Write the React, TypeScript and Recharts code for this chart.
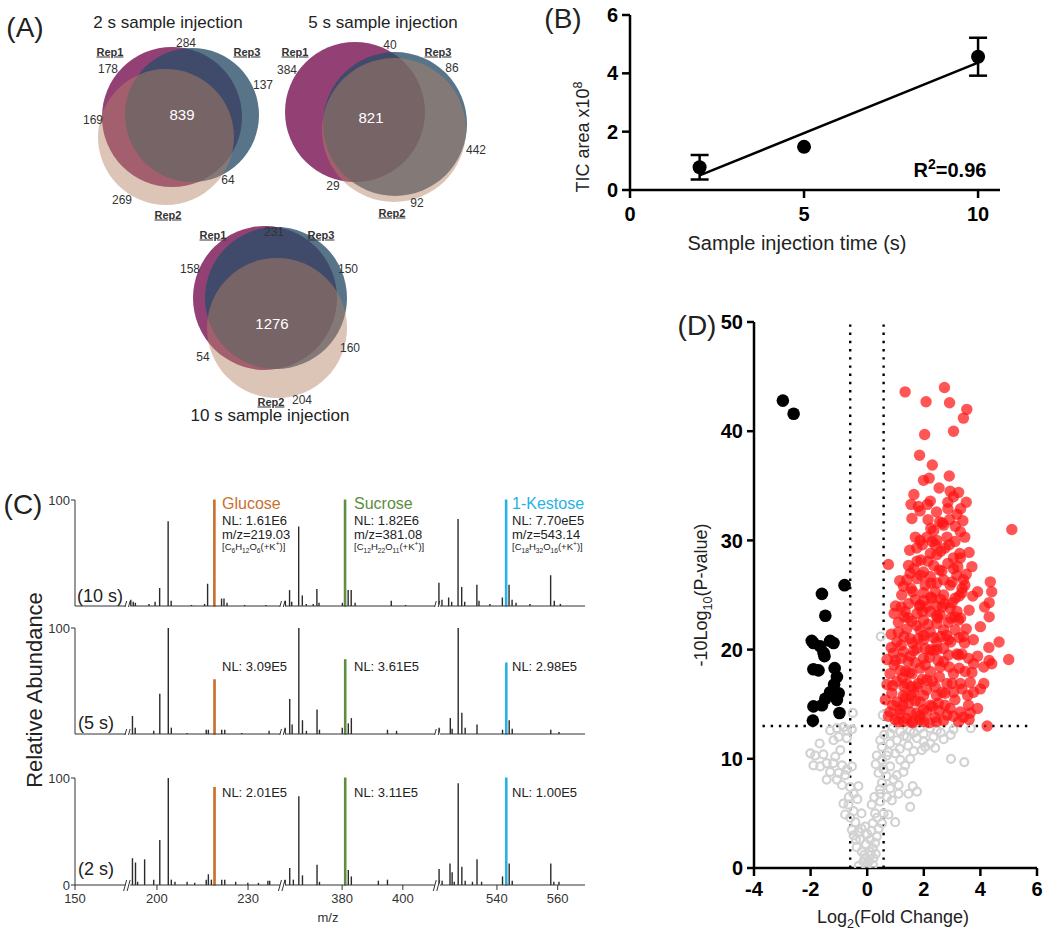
import React from 'react';
import {
  ScatterChart, Scatter, ComposedChart, Bar, Cell, XAxis, YAxis,
  ErrorBar, ReferenceLine, ReferenceDot,
} from 'recharts';

const FONT = '"Liberation Sans", Arial, sans-serif';

// ---------- (A) Venn diagrams ----------
const vennTitles = ['2 s sample injection', '5 s sample injection', '10 s sample injection'];
const vennSets = ['Rep1', 'Rep3', 'Rep2'];
// region order: Rep1 only, Rep1∩Rep3, Rep3 only, Rep1∩Rep2, all, Rep2∩Rep3, Rep2 only
const counts2s = [178, 284, 137, 169, 839, 64, 269];
const counts5s = [384, 40, 86, 29, 821, 442, 92];
const counts10s = [158, 231, 150, 54, 1276, 160, 204];

// circle layout (cx, cy, r) for Rep1, Rep3, Rep2
const circles2s = [[172, 117, 70], [192, 115, 67], [166, 137, 68]];
const circles5s = [[355, 112, 70], [395, 124, 72], [394, 130, 72]];
const circles10s = [[265, 298, 72], [276, 298, 71], [277, 328, 70]];

const countPos = [
  [[108, 69], [186, 43], [263, 85], [93, 120], [182, 114], [228, 180], [122, 200]],
  [[287, 70], [390, 45], [452, 68], [333, 186], [371, 117], [476, 150], [417, 203]],
  [[190, 269], [274, 232], [348, 269], [203, 357], [272, 323], [350, 348], [302, 400]],
];
const setPos = [
  [[110, 52], [247, 52], [168, 215]],
  [[295, 52], [438, 52], [392, 213]],
  [[213, 235], [321, 235], [271, 402]],
];
const titlePos = [[168, 22], [383, 22], [270, 415]];

const setColor: Record<string, string> = { Rep1: '#934175', Rep3: '#294d67', Rep2: '#b58264' };
const setAlpha: Record<string, number> = { Rep1: 1, Rep3: 0.78, Rep2: 0.47 };

// ---------- (B) TIC area ----------
const injTime = [2, 5, 10];
const ticArea = [0.78, 1.48, 4.57];
const ticErr = [0.42, 0, 0.65];
const fitStart = { x: 2, y: 0.5 };
const fitEnd = { x: 10, y: 4.37 };

// ---------- (C) mass spectra ----------
const spec10s = [
  [191.5, 6], [192.3, 4], [193, 3], [197.5, 2], [199.5, 4], [201, 17], [203.8, 80], [204.8, 5], [211.5, 1],
  [215.8, 2], [216.8, 21], [221.4, 7], [222.2, 7], [223.2, 3], [229, 1], [236, 1],
  [361.4, 5], [362.8, 15], [363.5, 4], [365.8, 75], [367, 10], [368.3, 2], [370.6, 2], [371.8, 16], [372.5, 3],
  [380.2, 3], [382.1, 15], [383.1, 15], [384.4, 3], [396.3, 5], [401, 1],
  [521, 22], [522, 6], [524.2, 8], [525.2, 4], [527.3, 82], [528.5, 18], [529.5, 4], [533.5, 20], [534.2, 5],
  [537.8, 2], [541.9, 8], [544.1, 20], [545.1, 6], [546.4, 3], [551, 2], [557.8, 29], [559, 5], [561, 2],
];
const spec5s = [
  [192, 17], [192.9, 6], [199, 3], [201, 38], [203.8, 100], [204.8, 6], [210, 1], [216.3, 4], [217, 4],
  [221.4, 4], [222.4, 4], [228, 1], [237, 3],
  [361.3, 6], [362.8, 33], [363.6, 9], [365.8, 100], [367, 13], [368.3, 3], [371.8, 23], [372.6, 4],
  [380.1, 6], [382.1, 10], [383.1, 15], [395, 4], [398, 3],
  [521, 6], [524.7, 15], [525.3, 5], [527.3, 100], [528.5, 20], [529.6, 6], [533.5, 9], [541.9, 4],
  [544.1, 13], [545.1, 5], [557.8, 4], [560.5, 2],
];
const spec2s = [
  [192, 25], [193, 21], [193.7, 3], [196, 24], [199, 5], [201, 42], [203.8, 100], [204.8, 5], [206, 3],
  [210, 3], [212.5, 2], [216.3, 5], [217, 10], [218, 5], [221.4, 5], [222.4, 5], [226, 3], [230, 2],
  [233.5, 2], [236.6, 4], [237.2, 4],
  [361.3, 5], [362.8, 16], [364, 5], [365.8, 83], [367, 9], [371.8, 19], [372.6, 3], [382.1, 14],
  [383.1, 8], [392, 4], [395, 5],
  [521, 15], [522, 4], [524.6, 20], [525.3, 12], [526, 3], [527.3, 95], [528.5, 17], [529.6, 4], [532, 3],
  [533.5, 24], [535, 3], [541.9, 8], [544.1, 20], [545.1, 4], [557.8, 20], [558.8, 3], [560.5, 3],
];
const targetMz = [219.03, 381.08, 543.14];
const targetNames = ['Glucose', 'Sucrose', '1-Kestose'];
const targetColors = ['#c8702f', '#5e8c3e', '#27b2e3'];
const targetRel10s = [100, 100, 100];
const targetRel5s = [51, 70, 67];
const targetRel2s = [91, 100, 100];
const nl10s = ['NL: 1.61E6', 'NL: 1.82E6', 'NL: 7.70eE5'];
const nl5s = ['NL: 3.09E5', 'NL: 3.61E5', 'NL: 2.98E5'];
const nl2s = ['NL: 2.01E5', 'NL: 3.11E5', 'NL: 1.00E5'];
const mzText = ['m/z=219.03', 'm/z=381.08', 'm/z=543.14'];
const mzTicks = [150, 200, 230, 380, 400, 540, 560];

// broken m/z axis: segment start m/z and start position
const segMz = [150, 191, 361, 521];
const segPos = [0, 18, 69, 120];
const breakPos = [17.5, 68.5, 119.5];
const POS_MAX = 168;

// ---------- (D) volcano ----------
const downReg = [
  [-2.98, 42.8], [-2.6, 41.6], [-0.8, 25.9], [-1.6, 25.1], [-1.48, 23.1], [-1.96, 20.8], [-1.31, 20.8],
  [-1.66, 20.3], [-1.51, 19.4], [-1.9, 20.6], [-1.54, 19.7], [-1.19, 20.6], [-1.9, 18.2], [-1.72, 18.1],
  [-1.15, 18.3], [-1.07, 17.5], [-1.17, 16.8], [-1.31, 16.1], [-1.01, 16.0], [-1.48, 15.5], [-1.07, 15.4],
  [-1.9, 14.8], [-1.6, 14.9], [-0.98, 14.2], [-1.92, 13.5],
];
const upReg = [
  [1.34, 43.6], [2.73, 44.0], [2.08, 42.7], [2.91, 42.6], [3.52, 42.0], [3.4, 41.2], [3.05, 40.0], [2.03, 39.7],
  [1.85, 37.8], [1.99, 35.5], [2.19, 35.7], [2.54, 34.8], [2.93, 34.5], [3.23, 34.4], [3.05, 34.0], [3.5, 33.5],
  [1.55, 33.3], [1.81, 33.1], [2.23, 33.6], [2.13, 33.3], [1.58, 32.0], [1.87, 32.7], [2.85, 32.9], [3.17, 32.4],
  [2.91, 31.9], [3.38, 31.8], [2.56, 31.7], [2.25, 31.1], [2.7, 31.4], [3.11, 31.3], [5.11, 31.0], [3.29, 30.8],
  [1.7, 30.3], [1.87, 30.0], [2.11, 30.3], [2.46, 30.0], [2.82, 30.3], [2.4, 29.6], [2.75, 29.3], [3.27, 28.8],
  [2.23, 28.8], [2.46, 28.7], [0.75, 27.8], [1.46, 27.7], [1.76, 28.1], [2.35, 27.7], [3.05, 28.4], [3.29, 28.4],
  [3.7, 27.6], [1.52, 27.0], [1.99, 27.1], [2.64, 27.2], [3.05, 27.4], [3.17, 26.8], [1.76, 26.5], [2.23, 26.7],
  [2.7, 26.4], [3.4, 26.4], [4.35, 26.2], [1.28, 25.8], [2.05, 25.9], [2.46, 26.1], [2.93, 25.9], [3.35, 25.6],
  [4.4, 25.3], [1.22, 25.0], [1.61, 25.3], [1.99, 25.2], [2.29, 24.7], [2.7, 25.0], [3.11, 24.7], [3.35, 25.2],
  [3.73, 24.9], [3.9, 25.3], [4.31, 24.3], [1.46, 24.2], [1.87, 24.1], [2.46, 24.0], [2.93, 23.8], [1.34, 23.5],
  [1.76, 23.3], [2.23, 23.5], [2.58, 23.2], [3.17, 23.5], [4.31, 23.0], [1.58, 22.6], [1.99, 22.7], [2.46, 22.4],
  [2.87, 22.5], [3.23, 22.7], [1.4, 21.9], [1.87, 21.8], [2.23, 21.6], [2.7, 21.8], [3.11, 21.8], [3.4, 21.2],
  [1.52, 21.0], [1.99, 20.9], [2.46, 20.7], [2.87, 20.9], [3.44, 20.6], [4.66, 20.7], [1.76, 20.1], [2.23, 20.0],
  [2.7, 20.1], [1.28, 19.8], [3.17, 19.6], [3.58, 19.2], [5.0, 19.1], [4.31, 19.0], [1.0, 19.0], [1.99, 19.2],
  [2.51, 19.0], [0.93, 19.7], [1.52, 19.4], [2.46, 20.0], [2.87, 19.5], [3.23, 19.5], [3.76, 18.7], [4.12, 18.4],
  [4.4, 18.7], [0.81, 17.8], [1.17, 18.1], [1.58, 17.8], [1.87, 18.3], [2.23, 18.0], [2.58, 18.4], [3.05, 17.8],
  [3.46, 18.0], [1.05, 17.1], [1.4, 16.9], [1.76, 16.6], [2.11, 17.2], [2.4, 16.6], [2.82, 16.9], [3.29, 16.9],
  [3.64, 17.0], [4.12, 16.9], [0.87, 16.0], [1.28, 15.8], [1.64, 16.1], [1.99, 15.8], [2.75, 16.0], [3.05, 16.1],
  [3.76, 16.1], [0.64, 15.4], [1.05, 15.2], [1.46, 15.1], [1.87, 15.2], [2.23, 14.9], [2.51, 15.1], [3.58, 14.9],
  [0.81, 14.3], [1.17, 14.5], [1.52, 14.3], [1.99, 14.5], [2.93, 14.6], [3.29, 14.3], [3.64, 14.2], [0.99, 13.6],
  [1.4, 13.7], [1.87, 13.6], [2.4, 13.8], [2.82, 14.0], [3.23, 13.4], [4.24, 13.0], [1.28, 13.4], [1.58, 13.4],
  [1.1, 22.5], [1.3, 21.2], [1.7, 24.6], [2.1, 23.9], [1.9, 26.8], [2.4, 25.3], [1.2, 20.4], [1.6, 20.6],
  [2.0, 21.3], [2.6, 21.2], [1.45, 18.9], [1.7, 18.8], [2.2, 19.3], [0.9, 16.7], [1.35, 15.6], [1.75, 14.2],
  [2.1, 16.3], [2.55, 17.5], [1.15, 14.1], [1.6, 13.3], [2.0, 13.4], [2.3, 14.8], [0.75, 13.9], [0.7, 16.8],
  [0.95, 18.6], [1.25, 17.4], [1.55, 16.6], [1.95, 17.3], [2.35, 19.9], [2.7, 18.9], [2.95, 20.7], [3.3, 22.9],
  [3.0, 26.2], [2.55, 27.3], [2.15, 28.1], [1.95, 29.6], [2.65, 31.6], [2.45, 32.6], [3.1, 29.9], [2.85, 27.9],
  [1.55, 25.6], [1.85, 24.0], [2.25, 26.1], [2.0, 24.5], [1.3, 23.0], [2.6, 24.6], [3.45, 25.9], [3.6, 23.6],
  [3.25, 18.3], [3.55, 15.8], [3.9, 14.6], [2.75, 14.9], [3.0, 16.9], [3.4, 13.8], [2.45, 13.4], [1.85, 13.9],
  [1.0, 24.0], [1.15, 26.3], [1.4, 26.4], [1.65, 27.4], [1.9, 28.2], [2.3, 29.9], [2.6, 29.0], [2.9, 29.6],
  [3.2, 27.6], [3.5, 26.9], [3.6, 28.9], [1.05, 20.7], [1.2, 19.2], [1.35, 18.0], [1.5, 17.9], [1.65, 19.9],
  [1.8, 21.0], [2.05, 20.1], [2.15, 22.3], [2.35, 21.1], [2.5, 22.9], [2.65, 23.9], [2.8, 21.3], [2.95, 22.9],
  [3.1, 23.0], [3.25, 21.1], [3.35, 19.6], [3.5, 21.9], [3.75, 20.9], [3.9, 19.4], [4.0, 22.1], [4.15, 23.9],
  [4.3, 20.2], [0.85, 21.4], [0.95, 23.3], [1.2, 23.9], [1.45, 22.9], [1.75, 22.2], [1.95, 23.5], [2.25, 24.8],
  [2.45, 23.1], [2.75, 24.2], [3.0, 24.3], [3.25, 24.9], [0.7, 19.1], [0.85, 20.2], [1.1, 21.6], [1.3, 16.6],
  [1.55, 15.8], [1.8, 16.9], [2.05, 18.6], [2.3, 17.1], [2.45, 15.8], [2.65, 16.1], [2.9, 18.4], [3.1, 15.4],
  [3.35, 16.4], [3.7, 17.9], [4.0, 16.4], [0.9, 14.9], [1.25, 14.9], [1.7, 15.3], [2.1, 14.3], [2.55, 14.4],
  [3.05, 13.9], [3.6, 13.6], [1.1, 13.4], [2.2, 13.3], [2.7, 13.5], [1.5, 29.1], [1.75, 29.3], [2.15, 31.9],
  [2.35, 30.9], [2.85, 33.5], [3.3, 32.9], [3.45, 30.3], [1.65, 34.2], [2.3, 36.9], [2.9, 35.9],
];
const notSig = [
  [-0.51, 14.2], [0.48, 21.2], [0.55, 14.0], [-1.31, 12.6], [-1.07, 12.8], [-0.84, 12.9], [-0.72, 12.6],
  [-0.54, 12.7], [-1.01, 12.0], [-1.19, 11.7], [-0.72, 11.9], [-1.68, 11.4], [-0.95, 10.8], [-2.01, 10.5],
  [-1.84, 10.3], [-1.13, 10.2], [-1.43, 9.6], [-1.9, 9.4], [-1.66, 9.3], [-0.89, 9.4], [-0.54, 9.3], [-0.72, 9.0],
  [-1.31, 8.8], [-1.01, 8.7], [-0.78, 8.5], [-1.43, 8.1], [-1.07, 8.1], [-0.89, 7.6], [-0.6, 7.4], [-0.31, 7.5],
  [-0.48, 6.8], [-0.84, 5.9], [-0.66, 5.8], [-0.48, 5.2], [-0.78, 4.9], [-0.42, 4.2], [-0.54, 3.5], [-0.31, 3.3],
  [-0.48, 3.0], [-0.25, 2.6], [-0.37, 1.9], [-0.19, 1.5], [-0.07, 0.9], [-0.01, 0.3], [-0.13, 0.6], [0.05, 0.6],
  [0.11, 1.2], [0.2, 1.8], [0.28, 2.3], [0.11, 2.6], [0.34, 2.9], [-0.07, 3.8], [0.2, 4.1], [0.52, 4.1],
  [0.28, 5.0], [0.16, 5.8], [0.46, 6.1], [0.58, 5.0], [0.75, 4.9], [0.99, 4.2], [0.46, 6.8], [0.52, 7.8],
  [0.81, 7.3], [0.69, 8.4], [0.93, 8.1], [1.11, 7.6], [0.87, 6.2], [1.11, 6.8], [1.46, 6.8], [1.76, 7.0],
  [1.52, 5.6], [0.4, 8.7], [0.58, 9.0], [0.81, 9.3], [0.52, 9.9], [0.34, 10.3], [0.69, 10.3], [0.99, 10.5],
  [1.17, 9.9], [1.34, 9.4], [1.52, 10.0], [1.28, 8.8], [1.05, 8.5], [1.64, 10.7], [1.93, 10.8], [1.99, 11.6],
  [2.23, 11.4], [2.4, 11.0], [2.7, 11.8], [2.34, 12.0], [1.99, 12.3], [1.76, 11.9], [1.4, 12.0], [1.05, 11.7],
  [0.81, 11.4], [0.46, 11.7], [0.52, 11.1], [0.81, 12.3], [1.17, 12.5], [1.52, 12.6], [1.87, 12.8], [2.23, 12.8],
  [2.46, 12.6], [3.05, 12.7], [3.66, 12.8], [2.96, 10.0], [3.43, 9.7], [1.61, 7.5], [0.1, 1.5], [-0.05, 2.2],
  [0.0, 3.1], [-0.2, 3.6], [0.15, 3.4], [0.35, 4.6], [-0.1, 1.2], [0.22, 0.9],
  [0.6, 12.2], [0.9, 12.8], [1.3, 12.1], [1.65, 12.4], [2.05, 11.1], [2.6, 12.4], [2.95, 12.2], [1.45, 11.2],
  [1.15, 10.9], [0.75, 10.6], [0.3, 9.5], [0.45, 7.2], [0.7, 6.5], [0.25, 6.5], [-0.2, 5.0], [-0.6, 4.6],
  [-0.35, 6.3], [-0.65, 6.5], [-1.2, 9.6], [-1.55, 10.4], [-0.3, 0.2], [0.3, 1.3], [0.4, 3.6], [-0.4, 2.6],
  [0.2, 0.3],
];

// ---------- helpers ----------
const mzToPos = (mz: number) => {
  let k = 0;
  for (let s = 0; s < segMz.length; s++) if (mz >= segMz[s]) k = s;
  return segPos[k] + (mz - segMz[k]);
};
const tickPos = mzTicks.map(mzToPos);
const fmtMz = (v: number) => {
  const k = tickPos.findIndex((t) => Math.abs(t - v) < 1e-6);
  return k >= 0 ? String(mzTicks[k]) : '';
};

const Txt = ({ x, y, size = 12, color = '#222', weight = 400, anchor = 'middle', rotate = 0, underline = false, children }: any) => {
  const tx = anchor === 'middle' ? '-50%' : anchor === 'end' ? '-100%' : '0';
  return (
    <div
      style={{
        position: 'absolute', left: x, top: y,
        transform: `translate(${tx}, -50%)${rotate ? ` rotate(${rotate}deg)` : ''}`,
        fontSize: size, color, fontWeight: weight, fontFamily: FONT, lineHeight: 1,
        whiteSpace: 'nowrap', textDecoration: underline ? 'underline' : 'none',
      }}
    >
      {children}
    </div>
  );
};
const sub = { fontSize: '0.7em', verticalAlign: 'sub', lineHeight: 0 } as const;
const sup = { fontSize: '0.7em', verticalAlign: 'super', lineHeight: 0 } as const;

const BreakMark = (p: any) => (
  <g>
    <rect x={p.cx - 3} y={p.cy - 1.5} width={5} height={3} fill="#fff" />
    <line x1={p.cx - 4.5} y1={p.cy + 6} x2={p.cx - 1.5} y2={p.cy - 5} stroke="#333" strokeWidth={1} />
    <line x1={p.cx - 1} y1={p.cy + 6} x2={p.cx + 2} y2={p.cy - 5} stroke="#333" strokeWidth={1} />
  </g>
);

const Spectrum = ({ peaks, rel, top, bottomAxis }: any) => {
  const data = [
    ...peaks.map(([mz, i]: number[]) => ({ pos: mzToPos(mz), i, color: '#2a2a2a', hl: false })),
    ...targetMz.map((mz, k) => ({ pos: mzToPos(mz), i: rel[k], color: targetColors[k], hl: true })),
  ].sort((a, b) => a.pos - b.pos);
  const height = bottomAxis ? 157 : 117;
  return (
    <div style={{ position: 'absolute', left: 0, top, width: 600, height }}>
      <ComposedChart width={600} height={height} data={data} margin={{ top: 10, right: 15, left: 35, bottom: 0 }}>
        <XAxis
          type="number" dataKey="pos" domain={[0, POS_MAX]} allowDataOverflow
          ticks={bottomAxis ? tickPos : []} interval={0} tickFormatter={fmtMz}
          tick={bottomAxis ? { fontSize: 13, fill: '#333', fontFamily: FONT } : false}
          tickLine={bottomAxis ? { stroke: '#333' } : false}
          tickSize={5} tickMargin={4} height={bottomAxis ? 40 : 1}
          axisLine={{ stroke: '#333' }}
        />
        <YAxis
          type="number" domain={[0, 100]} ticks={[0, 100]} width={40} tickSize={4} tickMargin={1}
          tick={{ fontSize: 13, fill: '#333', fontFamily: FONT }}
          axisLine={{ stroke: '#333' }} tickLine={{ stroke: '#333' }}
        />
        <Bar dataKey="i" barSize={1.4} isAnimationActive={false}>
          {data.map((d, k) => (
            <Cell key={k} fill={d.color} stroke={d.hl ? d.color : 'none'} strokeWidth={d.hl ? 1.2 : 0} />
          ))}
        </Bar>
        {breakPos.map((b) => (
          <ReferenceDot key={b} x={b} y={0} r={0} ifOverflow="visible" shape={BreakMark} />
        ))}
      </ComposedChart>
    </div>
  );
};

const bold = { fontSize: 20, fontWeight: 700, fill: '#000', fontFamily: FONT };
const axisStroke = { stroke: '#000', strokeWidth: 2.5 };

export default function App() {
  const vennCircles = [circles2s, circles5s, circles10s].map((cs) =>
    cs.map(([x, y, r], k) => ({ x, y, r, set: vennSets[k] })));
  const vennCounts = [counts2s, counts5s, counts10s];
  const bData = injTime.map((t, k) => ({ t, tic: ticArea[k], err: ticErr[k] }));
  const toXY = (arr: number[][]) => arr.map(([x, y]) => ({ x, y }));

  return (
    <div style={{ position: 'absolute', left: 0, top: 0, width: 1050, height: 931, background: '#fff', fontFamily: FONT, overflow: 'hidden' }}>
      {/* (A) */}
      <div style={{ position: 'absolute', left: 0, top: 0 }}>
        <ScatterChart width={520} height={430} margin={{ top: 0, right: 0, bottom: 0, left: 0 }}>
          <XAxis type="number" dataKey="x" domain={[0, 520]} hide />
          <YAxis type="number" dataKey="y" domain={[0, 430]} reversed hide />
          {vennCircles.map((cs, v) => (
            <Scatter
              key={v} data={cs} isAnimationActive={false}
              shape={(p: any) => (
                <circle cx={p.cx} cy={p.cy} r={p.payload.r} fill={setColor[p.payload.set]} fillOpacity={setAlpha[p.payload.set]} />
              )}
            />
          ))}
        </ScatterChart>
      </div>
      <Txt x={25} y={28} size={28}>(A)</Txt>
      {vennTitles.map((t, v) => (
        <Txt key={t} x={titlePos[v][0]} y={titlePos[v][1]} size={17}>{t}</Txt>
      ))}
      {vennCounts.map((cs, v) => cs.map((c, k) => (
        <Txt key={`${v}-${k}`} x={countPos[v][k][0]} y={countPos[v][k][1]} size={k === 4 ? 15 : 12} color={k === 4 ? '#fff' : '#333'}>{c}</Txt>
      )))}
      {setPos.map((ps, v) => ps.map((p, k) => (
        <Txt key={`s${v}-${k}`} x={p[0]} y={p[1]} size={11} weight={700} underline color="#333">{vennSets[k]}</Txt>
      )))}

      {/* (B) */}
      <div style={{ position: 'absolute', left: 520, top: 0 }}>
        <ScatterChart width={490} height={260} margin={{ top: 15, right: 10, bottom: 20, left: 50 }}>
          <XAxis type="number" dataKey="t" domain={[0, 10.63]} ticks={[0, 5, 10]} allowDataOverflow
            height={50} tickSize={8} tickMargin={9} tick={bold} axisLine={axisStroke} tickLine={axisStroke} />
          <YAxis type="number" dataKey="tic" domain={[0, 6]} ticks={[0, 2, 4, 6]} allowDataOverflow
            width={60} tickSize={8} tickMargin={4} tick={bold} axisLine={axisStroke} tickLine={axisStroke} />
          <ReferenceLine segment={[fitStart, fitEnd]} stroke="#000" strokeWidth={2.5} />
          <Scatter data={bData} isAnimationActive={false}
            shape={(p: any) => <circle cx={p.cx} cy={p.cy} r={7} fill="#000" />}>
            <ErrorBar dataKey="err" direction="y" width={9} stroke="#000" strokeWidth={2.5} />
          </Scatter>
        </ScatterChart>
      </div>
      <Txt x={563} y={19} size={28}>(B)</Txt>
      <Txt x={583} y={137} size={18} rotate={-90}>TIC area x10<span style={sup}>8</span></Txt>
      <Txt x={797} y={243} size={20}>Sample injection time (s)</Txt>
      <Txt x={950} y={170} size={20} weight={700} color="#000">R<span style={sup}>2</span>=0.96</Txt>

      {/* (C) */}
      <Spectrum peaks={spec10s} rel={targetRel10s} top={490} />
      <Spectrum peaks={spec5s} rel={targetRel5s} top={618} />
      <Spectrum peaks={spec2s} rel={targetRel2s} top={768} bottomAxis />
      <Txt x={23} y={505} size={28}>(C)</Txt>
      <Txt x={35} y={690} size={22} rotate={-90}>Relative Abundance</Txt>
      <Txt x={77} y={596} size={18} anchor="start">(10 s)</Txt>
      <Txt x={78} y={723} size={18} anchor="start">(5 s)</Txt>
      <Txt x={78} y={869} size={18} anchor="start">(2 s)</Txt>
      <Txt x={328} y={917} size={13} color="#333">m/z</Txt>
      {[222, 354, 512].map((x, k) => (
        <React.Fragment key={x}>
          <Txt x={x} y={504} size={16} anchor="start" color={targetColors[k]}>{targetNames[k]}</Txt>
          <Txt x={x} y={520} size={13} anchor="start">{nl10s[k]}</Txt>
          <Txt x={x} y={534} size={13} anchor="start">{mzText[k]}</Txt>
          <Txt x={x} y={666} size={13} anchor="start">{nl5s[k]}</Txt>
          <Txt x={x} y={792} size={13} anchor="start">{nl2s[k]}</Txt>
        </React.Fragment>
      ))}
      <Txt x={222} y={547} size={9.5} anchor="start">[C<span style={sub}>6</span>H<span style={sub}>12</span>O<span style={sub}>6</span>(+K<span style={sup}>+</span>)]</Txt>
      <Txt x={354} y={547} size={9.5} anchor="start">[C<span style={sub}>12</span>H<span style={sub}>22</span>O<span style={sub}>11</span>(+K<span style={sup}>+</span>)]</Txt>
      <Txt x={512} y={547} size={9.5} anchor="start">[C<span style={sub}>18</span>H<span style={sub}>32</span>O<span style={sub}>16</span>(+K<span style={sup}>+</span>)]</Txt>

      {/* (D) */}
      <div style={{ position: 'absolute', left: 690, top: 290 }}>
        <ScatterChart width={360} height={638} margin={{ top: 32, right: 13, bottom: 20, left: 20 }}>
          <XAxis type="number" dataKey="x" domain={[-4, 6]} ticks={[-4, -2, 0, 2, 4, 6]} allowDataOverflow
            height={40} tickSize={8} tickMargin={6} tick={bold} axisLine={axisStroke} tickLine={axisStroke} />
          <YAxis type="number" dataKey="y" domain={[0, 50]} ticks={[0, 10, 20, 30, 40, 50]} allowDataOverflow
            width={44} tickSize={7} tickMargin={4} tick={bold} axisLine={axisStroke} tickLine={axisStroke} />
          <Scatter data={toXY(notSig)} isAnimationActive={false}
            shape={(p: any) => <circle cx={p.cx} cy={p.cy} r={4} fill="none" stroke="#d2d2d2" strokeWidth={2.2} />} />
          <Scatter data={toXY(downReg)} isAnimationActive={false}
            shape={(p: any) => <circle cx={p.cx} cy={p.cy} r={6.3} fill="#000" />} />
          <Scatter data={toXY(upReg)} isAnimationActive={false}
            shape={(p: any) => <circle cx={p.cx} cy={p.cy} r={5.7} fill="#ff1414" fillOpacity={0.72} />} />
          <ReferenceLine x={-0.6} stroke="#000" strokeWidth={2.4} strokeDasharray="2.4 5.8" />
          <ReferenceLine x={0.58} stroke="#000" strokeWidth={2.4} strokeDasharray="2.4 5.8" />
          <ReferenceLine segment={[{ x: -3.7, y: 13 }, { x: 5.85, y: 13 }]} stroke="#000" strokeWidth={2.4} strokeDasharray="2.4 5.8" />
        </ScatterChart>
      </div>
      <Txt x={697} y={326} size={28}>(D)</Txt>
      <Txt x={701} y={595} size={18} rotate={-90}>-10Log<span style={sub}>10</span>(P-value)</Txt>
      <Txt x={893} y={917} size={18}>Log<span style={sub}>2</span>(Fold Change)</Txt>
    </div>
  );
}
